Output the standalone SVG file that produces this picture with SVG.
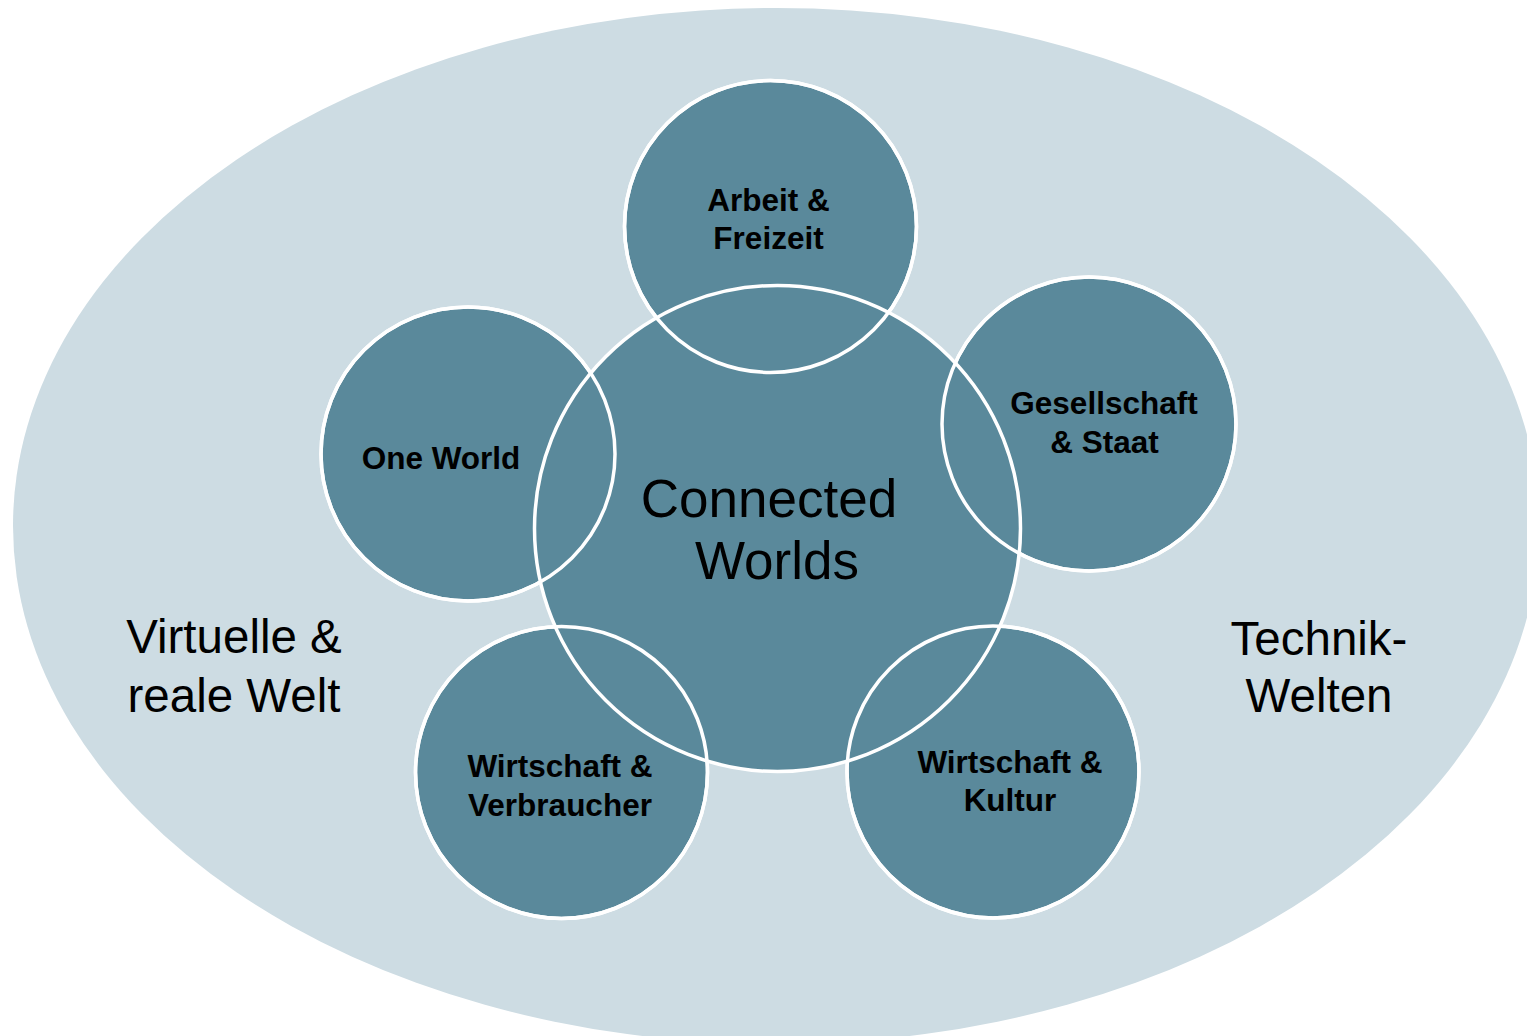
<svg xmlns="http://www.w3.org/2000/svg" width="1527" height="1036" viewBox="0 0 1527 1036">
<style>
.bg{fill:#CDDCE3;}
.disc{fill:#5A899B;stroke:#FFFFFF;stroke-width:3.5;}
.ring{fill:none;stroke:#FFFFFF;stroke-width:3.5;}
.lbl{font-family:"Liberation Sans",Arial,sans-serif;font-weight:bold;font-size:31.5px;fill:#000;text-anchor:middle;}
.big{font-family:"Liberation Sans",Arial,sans-serif;font-size:53px;fill:#000;text-anchor:middle;}
.side{font-family:"Liberation Sans",Arial,sans-serif;font-size:47.5px;fill:#000;text-anchor:middle;}
</style>
<rect width="1527" height="1036" fill="#FFFFFF"/>
<ellipse id="outer" class="bg" cx="776" cy="526" rx="763" ry="518"/>
<g id="side-left"><text class="side" x="234" y="653">Virtuelle &amp;</text><text class="side" x="234" y="712">reale Welt</text></g>
<g id="side-right"><text class="side" x="1319" y="655">Technik-</text><text class="side" x="1319" y="712">Welten</text></g>
<g id="node-arbeit"><circle class="disc" cx="770.5" cy="226.5" r="146"/></g>
<g id="node-oneworld"><circle class="disc" cx="468" cy="454" r="147"/></g>
<g id="node-gesellschaft"><circle class="disc" cx="1089" cy="424" r="147"/></g>
<g id="node-verbraucher"><circle class="disc" cx="561.5" cy="772.5" r="146"/></g>
<g id="node-kultur"><circle class="disc" cx="993" cy="772" r="146"/></g>
<g id="node-center"><circle class="disc" cx="777.5" cy="528.5" r="243"/></g>
<g id="rings">
<circle class="ring" cx="770.5" cy="226.5" r="146"/>
<circle class="ring" cx="468" cy="454" r="147"/>
<circle class="ring" cx="1089" cy="424" r="147"/>
<circle class="ring" cx="561.5" cy="772.5" r="146"/>
<circle class="ring" cx="993" cy="772" r="146"/>
</g>
<g id="labels">
<text class="lbl" x="768.5" y="211">Arbeit &amp;</text><text class="lbl" x="768.5" y="249">Freizeit</text>
<text class="lbl" x="441" y="469">One World</text>
<text class="lbl" x="1104" y="414">Gesellschaft</text><text class="lbl" x="1104.5" y="453">&amp; Staat</text>
<text class="lbl" x="560" y="777">Wirtschaft &amp;</text><text class="lbl" x="560" y="816">Verbraucher</text>
<text class="lbl" x="1010" y="773">Wirtschaft &amp;</text><text class="lbl" x="1010" y="811">Kultur</text>
<text class="big" x="769" y="517">Connected</text><text class="big" x="777" y="579">Worlds</text>
</g>
</svg>
